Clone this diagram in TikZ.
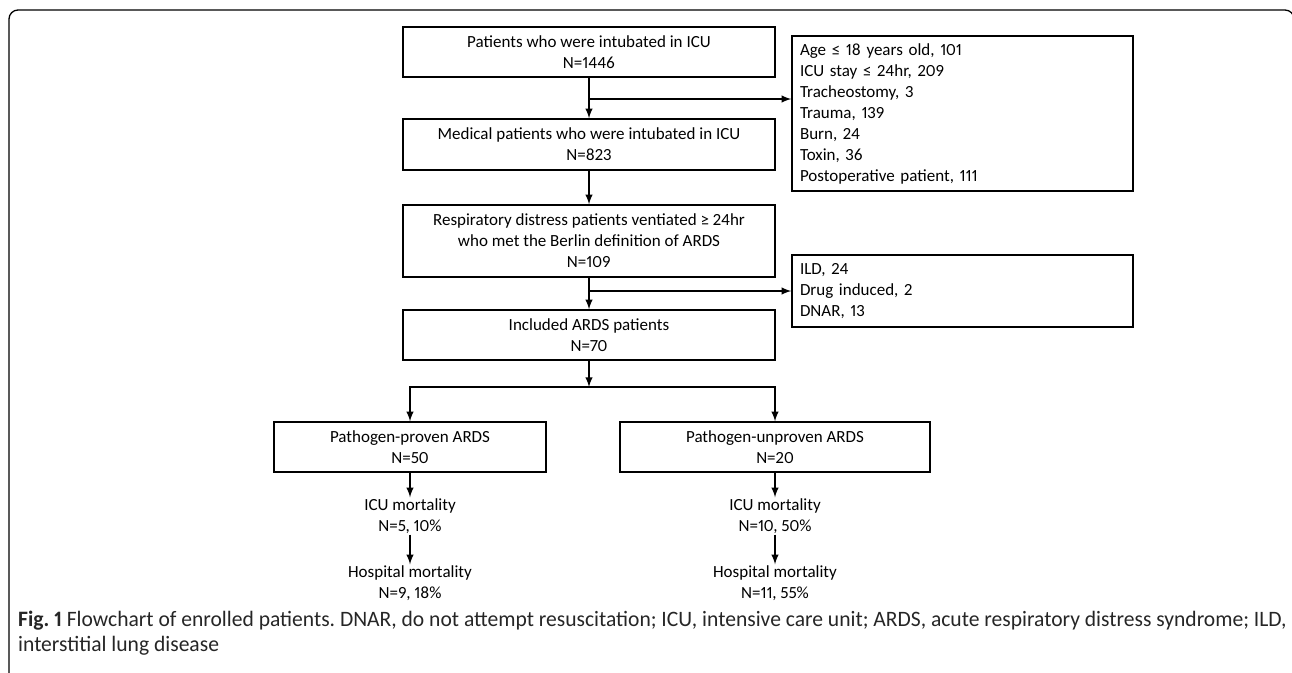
\documentclass[tikz,border=0pt]{standalone}
\usepackage{fontspec}
\setmainfont{Carlito}[Numbers=Proportional]
\newfontfamily\capfont[FakeStretch=0.98,Numbers=Proportional]{Carlito}
\usetikzlibrary{positioning}

\begin{document}
\frenchspacing
\begin{tikzpicture}[x=1pt,y=-1pt,
    box/.style={draw, line width=1.4pt, align=center, inner sep=0pt,
      font=\fontsize{17}{21}\selectfont},
    outbox/.style={draw, line width=1.4pt, align=left, inner xsep=8pt, inner ysep=0pt,
      text width=325pt, font=\fontsize{17}{21}\selectfont},
    res/.style={align=center, inner sep=1pt, font=\fontsize{17}{21}\selectfont},
    link/.style={line width=2.3pt, -latex}]

  \useasboundingbox (0,0) rectangle (1292,672);

  % frame
  \draw[line width=1.3pt, rounded corners=9pt] (9,690) -- (9,10) -- (1294,10) -- (1294,690);

  % main boxes
  \node[box, minimum width=372pt, minimum height=50pt] (icu) at (589,52)
    {Patients who were intubated in ICU\\N=1446};
  \node[box, minimum width=372pt, minimum height=51pt] (medical) at (589,144.5)
    {Medical patients who were intubated in ICU\\N=823};
  \node[box, minimum width=372pt, minimum height=72pt] (berlin) at (589,241)
    {Respiratory distress patients ventiated ≥ 24hr\\who met the Berlin definition of ARDS\\N=109};
  \node[box, minimum width=372pt, minimum height=50pt] (included) at (589,335)
    {Included ARDS patients\\N=70};

  % excluded
  \node[outbox, minimum height=155pt] (excl1) at (962.5,113.5)
    {Age ≤ 18 years old, 101\\ICU stay ≤ 24hr, 209\\Tracheostomy, 3\\Trauma, 139\\Burn, 24\\Toxin, 36\\Postoperative patient, 111};
  \node[outbox, minimum height=72pt] (excl2) at (962.5,291)
    {ILD, 24\\Drug induced, 2\\DNAR, 13};

  % groups
  \node[box, minimum width=272pt, minimum height=50pt] (proven) at (410,447)
    {Pathogen-proven ARDS\\N=50};
  \node[box, minimum width=310pt, minimum height=50pt] (unproven) at (775,447)
    {Pathogen-unproven ARDS\\N=20};

  \node[res] (icuA) at (410,516) {ICU mortality\\N=5, 10\%};
  \node[res] (hospA) at (410,583) {Hospital mortality\\N=9, 18\%};
  \node[res] (icuB) at (775,516) {ICU mortality\\N=10, 50\%};
  \node[res] (hospB) at (775,583) {Hospital mortality\\N=11, 55\%};

  \coordinate (cut1) at (589,99);
  \coordinate (cut2) at (589,291);
  \coordinate (split) at (589,387);

  % arrows
  \draw[link] (icu) -- (medical);
  \draw[link] (cut1) -- (excl1.west |- cut1);
  \draw[link] (medical) -- (berlin);
  \draw[link] (berlin) -- (included);
  \draw[link] (cut2) -- (excl2.west |- cut2);
  \draw[link] (included) -- (split);
  \draw[link] (split) -| (proven);
  \draw[link] (split) -| (unproven);
  \draw[link] (proven) -- (icuA);
  \draw[link] (icuA) -- (hospA);
  \draw[link] (unproven) -- (icuB);
  \draw[link] (icuB) -- (hospB);

  % caption
  \node[anchor=north west, inner sep=0pt, align=left, text=black!85,
    font=\capfont\fontsize{22}{25}\selectfont] (caption) at (18,611)
    {\textbf{Fig. 1} Flowchart of enrolled patients. DNAR, do not attempt resuscitation; ICU, intensive care unit; ARDS, acute respiratory distress syndrome; ILD,\\interstitial lung disease};

\end{tikzpicture}
\end{document}
